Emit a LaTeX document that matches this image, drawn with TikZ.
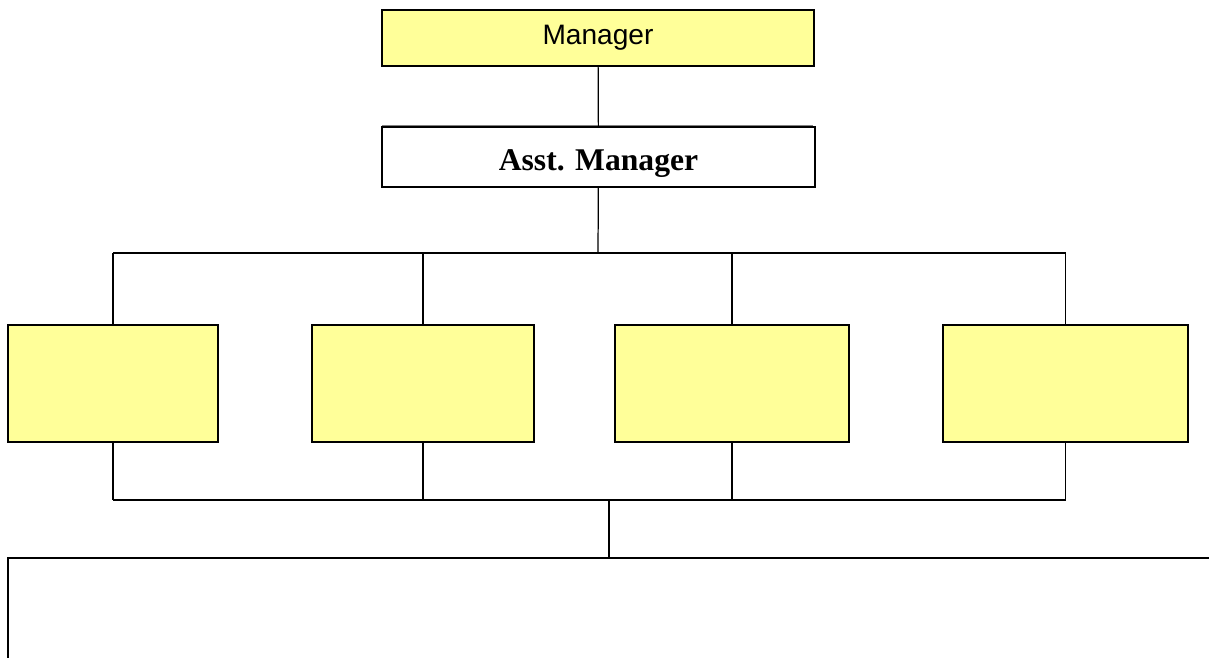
\documentclass[tikz,border=0pt]{standalone}
\usepackage{fontspec}
\setmainfont{Liberation Serif}
\newfontfamily\arialfont{Liberation Sans}
\definecolor{boxyellow}{RGB}{255,255,153}

\begin{document}
\begin{tikzpicture}[x=0.02cm,y=-0.02cm,
		post/.style={draw,line width=0.9pt,inner sep=0pt,fill=boxyellow},
		link/.style={line width=0.7pt}]
		\useasboundingbox (0,0) rectangle (1209,657);
		\clip (0,0) rectangle (1209,657);
		\node[post,minimum width=8.64cm,minimum height=1.12cm,font=\arialfont\fontsize{16}{19}\selectfont] (mgr) at (598,38) {Manager};
		\draw[gray,line width=0.6pt] (382,126) -- (813,126);
		\node[post,fill=white,line width=1pt,minimum width=8.66cm,minimum height=1.2cm,text height=19pt,text depth=4pt,font=\bfseries\fontsize{18}{21}\selectfont] (asst) at (598.5,157) {Asst. Manager};
		\node[post,minimum width=4.2cm,minimum height=2.34cm] (d1) at (113,383.5) {};
		\node[post,minimum width=4.44cm,minimum height=2.34cm] (d2) at (423,383.5) {};
		\node[post,minimum width=4.68cm,minimum height=2.34cm] (d3) at (732,383.5) {};
		\node[post,minimum width=4.9cm,minimum height=2.34cm] (d4) at (1065.5,383.5) {};
		\node[draw,line width=1pt,inner sep=0pt,minimum width=25.04cm,minimum height=3.24cm] (unit) at (634,639) {};
		\coordinate (top) at (598,253);
		\coordinate (low) at (609,500);
		\draw[link] (mgr) -- (asst);
		\draw[link] (asst) -- (top);
		\draw[link] (d1.north |- top) -- (d4.north |- top);
		\draw[link] (d1.south |- low) -- (d4.south |- low);
		\foreach \d in {d1,d2,d3,d4} {
			\draw[link] (\d.north |- top) -- (\d.north);
			\draw[link] (\d.south) -- (\d.south |- low);
		}
		\draw[link] (low) -- (unit.north -| low);
	\end{tikzpicture}
\end{document}
